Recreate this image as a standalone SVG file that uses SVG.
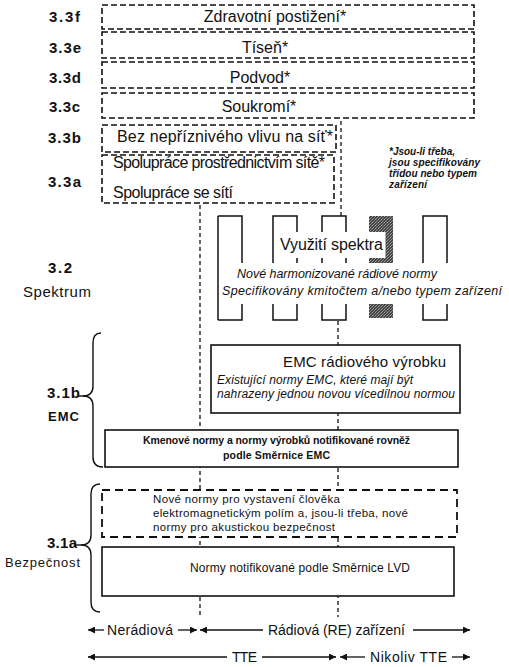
<svg xmlns="http://www.w3.org/2000/svg" width="509" height="667" viewBox="0 0 509 667">
<style>
.t{font-family:"Liberation Sans",Arial,sans-serif;fill:#111}
.b{font-weight:bold}
.i{font-style:italic}
.dl{fill:#fff;stroke:#111;stroke-width:1.6;stroke-dasharray:6 3}
.dl2{fill:#fff;stroke:#111;stroke-width:1.8;stroke-dasharray:8 5}
.sb{fill:#fff;stroke:#111;stroke-width:1.6}
.conn{stroke:#111;stroke-width:1.3;stroke-dasharray:4 3;fill:none}
.ch{fill:none;stroke:#111;stroke-width:1.5}
.br{fill:none;stroke:#111;stroke-width:1.4}
.ar{stroke:#111;stroke-width:1.3;fill:none}
</style>
<defs>
<marker id="ah" viewBox="0 0 10 10" refX="10" refY="5" markerUnits="userSpaceOnUse" markerWidth="9" markerHeight="7" orient="auto-start-reverse"><path d="M0,0 L10,5 L0,10 z" fill="#111"/></marker>
<pattern id="dots" width="3" height="3" patternUnits="userSpaceOnUse"><rect width="3" height="3" fill="#444"/><rect width="1" height="1" fill="#aaa"/><rect x="2" y="1" width="1" height="1" fill="#888"/><rect x="1" y="2" width="1" height="1" fill="#999"/></pattern>
</defs>

<g id="connectors">
<line class="conn" x1="341" y1="121" x2="341" y2="216"/>
<line class="conn" x1="200" y1="205" x2="200" y2="617"/>
<line class="conn" x1="338" y1="321" x2="338" y2="617"/>
<line class="ar" x1="104" y1="630" x2="88" y2="630" marker-end="url(#ah)"/>
<line class="ar" x1="178" y1="630" x2="197" y2="630" marker-end="url(#ah)"/>
<line class="ar" x1="263" y1="630" x2="200" y2="630" marker-end="url(#ah)"/>
<line class="ar" x1="413" y1="630" x2="470" y2="630" marker-end="url(#ah)"/>
<line class="ar" x1="227" y1="657" x2="88" y2="657" marker-end="url(#ah)"/>
<line class="ar" x1="262" y1="657" x2="336" y2="657" marker-end="url(#ah)"/>
<line class="ar" x1="365" y1="657" x2="340" y2="657" marker-end="url(#ah)"/>
<line class="ar" x1="452" y1="657" x2="470" y2="657" marker-end="url(#ah)"/>
</g>

<g id="labels">
<text class="t b" x="49" y="22" font-size="15" textLength="31">3.3f</text>
<text class="t b" x="49" y="53" font-size="15" textLength="32">3.3e</text>
<text class="t b" x="49" y="83" font-size="15" textLength="32">3.3d</text>
<text class="t b" x="49" y="112" font-size="15" textLength="31">3.3c</text>
<text class="t b" x="48" y="143" font-size="15" textLength="33">3.3b</text>
<text class="t b" x="48" y="187" font-size="15" textLength="33">3.3a</text>
<text class="t b" x="48" y="273" font-size="15" textLength="24">3.2</text>
<text class="t" x="23" y="297" font-size="15" textLength="68">Spektrum</text>
<text class="t b" x="47" y="398" font-size="15" textLength="33">3.1b</text>
<text class="t b" x="48" y="421" font-size="13" textLength="31">EMC</text>
<text class="t b" x="47" y="548" font-size="15" textLength="30">3.1a</text>
<text class="t" x="5" y="567" font-size="13" textLength="75">Bezpečnost</text>
</g>

<g id="brace-emc"><path class="br" d="M101,333 Q93,333 93,343 L93,386 Q93,396 83,396 Q93,396 93,406 L93,457 Q93,467 103,467"/><line class="br" x1="78" y1="396" x2="84" y2="396"/></g>
<g id="brace-safety"><path class="br" d="M100,484 Q91,484 91,494 L91,535 Q91,545 81,545 Q91,545 91,555 L91,602 Q91,612 100,612"/><line class="br" x1="75" y1="545" x2="82" y2="545"/></g>

<g id="n33f"><rect class="dl" x="102" y="5" width="372" height="24"/><text class="t" x="275" y="22" font-size="16" text-anchor="middle">Zdravotní postižení*</text></g>
<g id="n33e"><rect class="dl" x="102" y="32" width="372" height="26"/><text class="t" x="265" y="53" font-size="16" text-anchor="middle">Tíseň*</text></g>
<g id="n33d"><rect class="dl" x="102" y="62" width="372" height="26"/><text class="t" x="260" y="83" font-size="16" text-anchor="middle">Podvod*</text></g>
<g id="n33c"><rect class="dl" x="102" y="93" width="372" height="25"/><text class="t" x="259" y="112" font-size="16" text-anchor="middle">Soukromí*</text></g>
<g id="n33b"><rect class="dl" x="102" y="125" width="234" height="27"/><text class="t" x="117" y="142" font-size="16" textLength="216">Bez nepříznivého vlivu na síť*</text></g>
<g id="n33a"><rect class="dl" x="102" y="155" width="232" height="48"/><text class="t" x="113" y="168" font-size="16" textLength="212">Spolupráce prostřednictvím sítě*</text><text class="t" x="113" y="198" font-size="16" textLength="120">Spolupráce se sítí</text></g>

<g id="note"><text class="t b i" font-size="10"><tspan x="389" y="155" textLength="66">*Jsou-li třeba,</tspan><tspan x="389" y="166" textLength="91">jsou specifikovány</tspan><tspan x="389" y="177" textLength="88">třídou nebo typem</tspan><tspan x="389" y="188" textLength="38">zařízení</tspan></text></g>

<g id="spectrum">
<rect x="369" y="216" width="24" height="47" fill="url(#dots)"/>
<rect x="369" y="304" width="24" height="14" fill="url(#dots)"/>
<line class="ch" x1="218" y1="216" x2="218" y2="320"/>
<path class="ch" d="M218,216 H242 V263 M218,320 H242 V304"/>
<path class="ch" d="M273,263 V216 H297 V263 M273,304 V320 H297 V304"/>
<path class="ch" d="M322,263 V216 H346 V263 M322,304 V320 H346 V304"/>
<path class="ch" d="M423,263 V216 H447 V263 M423,304 V320 H447 V304"/>
<rect x="274.5" y="232" width="111" height="26" fill="#fff"/>
<text class="t" x="280" y="250" font-size="16" textLength="103">Využití spektra</text>
<text class="t i" x="237" y="278" font-size="12.5" textLength="200">Nové harmonizované rádiové normy</text>
<text class="t i" x="222" y="295" font-size="12.5" textLength="280">Specifikovány kmitočtem a/nebo typem zařízení</text>
</g>

<g id="emc-radio"><rect class="sb" x="211" y="345" width="249" height="68"/><text class="t" x="283" y="367" font-size="15" textLength="163">EMC rádiového výrobku</text><text class="t i" x="217" y="384" font-size="12" textLength="196">Existující normy EMC, které mají být</text><text class="t i" x="217" y="398" font-size="12" textLength="238">nahrazeny jednou novou vícedílnou normou</text></g>

<g id="emc-generic"><rect class="sb" x="105" y="430" width="353" height="37"/><text class="t b" x="143" y="444" font-size="10.5" textLength="267">Kmenové normy a normy výrobků notifikované rovněž</text><text class="t b" x="223" y="459" font-size="10.5" textLength="107">podle Směrnice EMC</text></g>

<g id="safety-new"><rect class="dl2" x="102" y="490" width="355" height="47"/><text class="t" x="153" y="503" font-size="11.5" textLength="187">Nové normy pro vystavení člověka</text><text class="t" x="153" y="517" font-size="11.5" textLength="255">elektromagnetickým polím a, jsou-li třeba, nové</text><text class="t" x="153" y="531" font-size="11.5" textLength="182">normy pro akustickou bezpečnost</text></g>

<g id="lvd"><rect class="sb" x="102" y="547" width="352" height="49"/><text class="t" x="190" y="572" font-size="12" textLength="220">Normy notifikované podle Směrnice LVD</text></g>

<g id="axis-labels">
<text class="t" x="107" y="635" font-size="14" textLength="66">Nerádiová</text>
<text class="t" x="268" y="635" font-size="14" textLength="137">Rádiová (RE) zařízení</text>
<text class="t" x="232" y="662" font-size="14" textLength="25">TTE</text>
<text class="t" x="370" y="662" font-size="14" textLength="77">Nikoliv TTE</text>
</g>
</svg>
